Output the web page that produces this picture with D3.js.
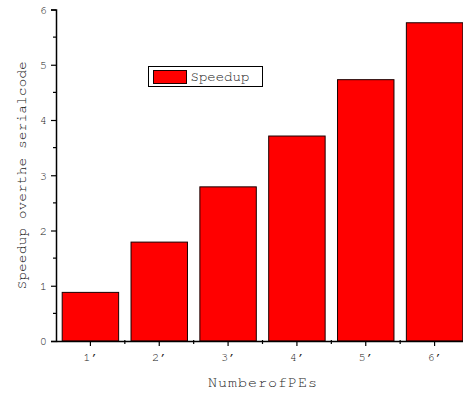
<!DOCTYPE html>
<html>
<head>
<meta charset="utf-8">
<script src="https://cdn.jsdelivr.net/npm/d3@7"></script>
<style>
  body { margin: 0; background: #fff; }
  text { font-family: "FreeMono", "Liberation Mono", monospace; fill: #222; }
</style>
</head>
<body>
<div id="chart"></div>
<script>
// data
const categories = ['1', '2', '3', '4', '5', '6'];
const tickLabels = ['1\u2032', '2\u2032', '3\u2032', '4\u2032', '5\u2032', '6\u2032'];
const speedup = [0.88, 1.79, 2.79, 3.71, 4.73, 5.76];
const yTicks = [0, 1, 2, 3, 4, 5, 6];
const yMinorTicks = [0.5, 1.5, 2.5, 3.5, 4.5, 5.5];

const width = 463, height = 393;
const margin = { top: 9.5, right: -6, bottom: 52, left: 56 };
const monoFont = '"FreeMono", "Liberation Mono", monospace';

const svg = d3.select('#chart')
  .append('svg')
  .attr('width', width)
  .attr('height', height)
  .style('font-family', monoFont);

const x = d3.scaleBand()
  .domain(categories)
  .range([margin.left, width - margin.right])
  .paddingInner(0.18)
  .paddingOuter(0.09);

const y = d3.scaleLinear()
  .domain([0, 6])
  .range([height - margin.bottom, margin.top]);

// bars
svg.append('g')
  .selectAll('rect')
  .data(speedup)
  .enter()
  .append('rect')
  .attr('x', (d, i) => x(categories[i]))
  .attr('y', d => y(d))
  .attr('width', x.bandwidth())
  .attr('height', d => y(0) - y(d))
  .attr('fill', '#ff0000')
  .attr('stroke', '#1a0000')
  .attr('stroke-width', 1);

// y axis
const yAxis = svg.append('g')
  .attr('transform', 'translate(' + margin.left + ',0)')
  .call(d3.axisLeft(y).tickValues(yTicks).tickSize(5).tickPadding(4).tickFormat(d3.format('d')));
yAxis.attr('font-family', monoFont);
yAxis.select('.domain').attr('stroke', '#000').attr('stroke-width', 1.5);
yAxis.selectAll('.tick line').attr('stroke', '#000').attr('stroke-width', 1.2);
yAxis.selectAll('text').attr('font-size', 12).style('font-family', monoFont);

svg.append('g')
  .selectAll('line')
  .data(yMinorTicks)
  .enter()
  .append('line')
  .attr('x1', margin.left - 3)
  .attr('x2', margin.left)
  .attr('y1', d => y(d))
  .attr('y2', d => y(d))
  .attr('stroke', '#000')
  .attr('stroke-width', 1.2);

// x axis
const xAxis = svg.append('g')
  .attr('transform', 'translate(0,' + y(0) + ')')
  .call(d3.axisBottom(x).tickSize(5).tickPadding(6).tickSizeOuter(0)
    .tickFormat((d, i) => tickLabels[i]));
xAxis.attr('font-family', monoFont);
xAxis.select('.domain').attr('stroke', '#000').attr('stroke-width', 1.5);
xAxis.selectAll('.tick line').attr('stroke', '#000').attr('stroke-width', 1.2);
xAxis.selectAll('text').attr('font-size', 12).style('font-family', monoFont);

// minor x ticks between the bars
const bounds = categories.slice(0, -1).map((c, i) =>
  (x(c) + x.bandwidth() + x(categories[i + 1])) / 2);
svg.append('g')
  .selectAll('line')
  .data(bounds)
  .enter()
  .append('line')
  .attr('x1', d => d)
  .attr('x2', d => d)
  .attr('y1', y(0) - 1)
  .attr('y2', y(0) + 3)
  .attr('stroke', '#000')
  .attr('stroke-width', 1.2);

// axis titles
svg.append('text')
  .attr('x', (margin.left + width - margin.right) / 2)
  .attr('y', 387)
  .attr('text-anchor', 'middle')
  .attr('font-size', 15)
  .attr('textLength', 109)
  .style('font-family', monoFont)
  .text('NumberofPEs');

svg.append('text')
  .attr('transform', 'translate(26,' + y(3) + ') rotate(-90)')
  .attr('text-anchor', 'middle')
  .attr('font-size', 14)
  .attr('textLength', 228)
  .style('font-family', monoFont)
  .text('Speedup overthe serialcode');

// legend
const legend = svg.append('g').attr('transform', 'translate(148.5,66.5)');
legend.append('rect')
  .attr('width', 114)
  .attr('height', 20)
  .attr('fill', '#fff')
  .attr('stroke', '#000')
  .attr('stroke-width', 1);
legend.append('rect')
  .attr('x', 5)
  .attr('y', 4)
  .attr('width', 33)
  .attr('height', 13)
  .attr('fill', '#ff0000')
  .attr('stroke', '#1a0000')
  .attr('stroke-width', 1);
legend.append('text')
  .attr('x', 42)
  .attr('y', 14.5)
  .attr('font-size', 14)
  .style('font-family', monoFont)
  .text('Speedup');
</script>
</body>
</html>
